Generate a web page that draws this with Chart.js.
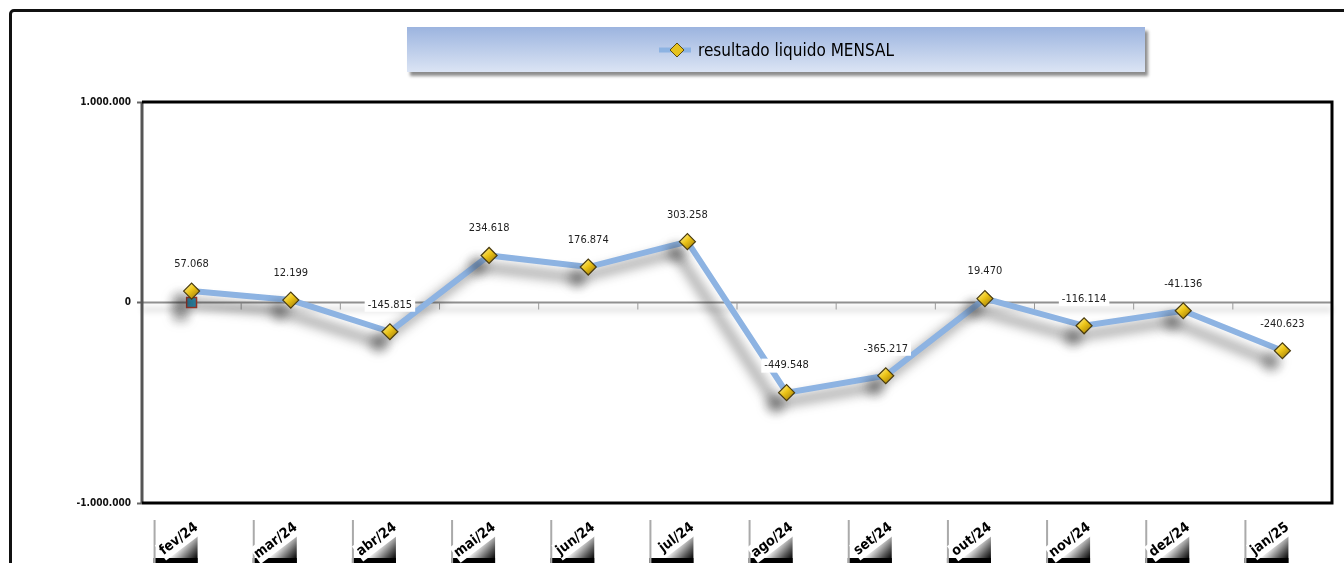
<!DOCTYPE html>
<html>
<head>
<meta charset="utf-8">
<script src="https://cdn.jsdelivr.net/npm/chart.js@4.4.1/dist/chart.umd.min.js"></script>
<style>
  html, body { margin: 0; padding: 0; background: #fff; overflow: hidden; }
  #wrap { position: relative; width: 1344px; height: 563px; }
  #moldura { position: absolute; left: 9px; top: 9px; width: 1400px; height: 620px;
    border: 3px solid #111; border-radius: 5px; box-sizing: border-box; }
  #legenda { position: absolute; left: 407px; top: 27px; width: 738px; height: 45px;
    background: linear-gradient(#9cb4df, #dbe4f4); box-shadow: 3px 4px 3px rgba(0,0,0,.45);
    display: flex; align-items: center; justify-content: center;
    font-family: 'Liberation Sans Narrow', 'DejaVu Sans Condensed', sans-serif;
    font-size: 17px; color: #000; }
  #legenda svg { margin-right: 6px; }
  canvas { position: absolute; left: 0; top: 0; }
</style>
</head>
<body>
<div id="wrap">
  <div id="moldura"></div>
  <canvas id="grafico" width="1344" height="563"></canvas>
  <div id="legenda">
    <svg width="34" height="16" viewBox="0 0 34 16">
      <line x1="1" y1="8" x2="33" y2="8" stroke="#8db3e2" stroke-width="5"/>
      <polygon points="19,1 26,8 19,15 12,8" fill="#e6c21e" stroke="#5a4a12" stroke-width="1"/>
    </svg>
    <span>resultado liquido MENSAL</span>
  </div>
</div>
<script>
// ── dados ──────────────────────────────────────────────
const meses = ["fev/24", "mar/24", "abr/24", "mai/24", "jun/24", "jul/24",
               "ago/24", "set/24", "out/24", "nov/24", "dez/24", "jan/25"]
const resultadoMensal = [57068, 12199, -145815, 234618, 176874, 303258,
                         -449548, -365217, 19470, -116114, -41136, -240623]
const marcadorInicial = [0, null, null, null, null, null, null, null, null, null, null, null]
const eixoY = { min: -1000000, max: 1000000, passo: 1000000 }

const fontNarrow = "'Liberation Sans Narrow', 'DejaVu Sans Condensed', sans-serif"

function fmt(v) {
  const s = Math.abs(Math.round(v)).toString().replace(/\B(?=(\d{3})+(?!\d))/g, ".")
  return (v < 0 ? "-" : "") + s
}

// preenchimento dourado dos losangos
function douradoPonto(c) {
  const ch = c.chart
  if (!ch.scales || !ch.scales.x || c.raw == null) return "#e6c21e"
  const x = ch.scales.x.getPixelForValue(c.dataIndex)
  const y = ch.scales.y.getPixelForValue(c.raw)
  if (!isFinite(x) || !isFinite(y)) return "#e6c21e"
  const g = ch.ctx.createLinearGradient(x - 7, y - 7, x + 7, y + 7)
  g.addColorStop(0, "#fff3a0")
  g.addColorStop(0.45, "#f0c818")
  g.addColorStop(1, "#a07a08")
  return g
}

const decoracao = {
  id: "decoracao",
  beforeDraw(chart) {
    // caixas sombreadas atrás dos rótulos do eixo X
    const { ctx, scales: { x } } = chart
    ctx.save()
    x.ticks.forEach((t, i) => {
      const px = x.getPixelForTick(i)
      const l = px - 38, r = px + 6, top = 520, bot = 563
      const g = ctx.createLinearGradient(l + 14, top + 12, r, bot - 4)
      g.addColorStop(0, "#ffffff")
      g.addColorStop(0.45, "#ffffff")
      g.addColorStop(0.8, "#555")
      g.addColorStop(1, "#000")
      ctx.fillStyle = g
      ctx.fillRect(l, top, r - l, bot - top)
      ctx.fillStyle = "#000"
      ctx.fillRect(l, bot - 5, r - l, 5)
      ctx.fillStyle = "#aaa"
      ctx.fillRect(l, top, 2, bot - top)
    })
    ctx.restore()
  },
  beforeDatasetsDraw(chart) {
    const { ctx, chartArea: a, scales: { x, y } } = chart
    const y0 = y.getPixelForValue(0)
    ctx.save()
    ctx.shadowColor = "rgba(0,0,0,0.3)"
    ctx.shadowBlur = 6
    ctx.shadowOffsetY = 7
    ctx.strokeStyle = "#909090"
    ctx.lineWidth = 2
    ctx.beginPath()
    ctx.moveTo(a.left, y0)
    ctx.lineTo(a.right, y0)
    ctx.stroke()
    ctx.restore()
    ctx.save()
    ctx.strokeStyle = "#999"
    ctx.lineWidth = 1
    const passo = x.getPixelForTick(1) - x.getPixelForTick(0)
    for (let i = 1; i < x.ticks.length; i++) {
      const bx = x.getPixelForTick(i) - passo / 2
      ctx.beginPath()
      ctx.moveTo(bx, y0)
      ctx.lineTo(bx, y0 + 7)
      ctx.stroke()
    }
    ctx.restore()
  },
  beforeDatasetDraw(chart) {
    const ctx = chart.ctx
    ctx.save()
    ctx.shadowColor = "rgba(30,30,30,0.6)"
    ctx.shadowBlur = 12
    ctx.shadowOffsetX = -11
    ctx.shadowOffsetY = 11
  },
  afterDatasetDraw(chart) {
    chart.ctx.restore()
  },
  afterDatasetsDraw(chart) {
    const { ctx, chartArea: a } = chart
    // rótulos de valores
    const meta = chart.getDatasetMeta(1)
    ctx.save()
    ctx.font = "11px " + fontNarrow
    ctx.textAlign = "center"
    ctx.textBaseline = "middle"
    meta.data.forEach((p, i) => {
      const txt = fmt(resultadoMensal[i])
      const w = ctx.measureText(txt).width
      const ly = p.y - 27
      ctx.fillStyle = "#fff"
      ctx.fillRect(p.x - w / 2 - 3, ly - 7, w + 6, 14)
      ctx.fillStyle = "#222"
      ctx.fillText(txt, p.x, ly)
    })
    ctx.restore()
    // moldura da área de plotagem
    ctx.save()
    ctx.lineWidth = 3
    ctx.strokeStyle = "#555"
    ctx.beginPath()
    ctx.moveTo(a.left, a.top)
    ctx.lineTo(a.left, a.bottom)
    ctx.stroke()
    ctx.strokeStyle = "#000"
    ctx.beginPath()
    ctx.moveTo(a.left, a.top)
    ctx.lineTo(a.right, a.top)
    ctx.lineTo(a.right, a.bottom)
    ctx.lineTo(a.left, a.bottom)
    ctx.stroke()
    ctx.restore()
  }
}

new Chart(document.getElementById("grafico"), {
  type: "line",
  data: {
    labels: meses,
    datasets: [
      {
        label: "inicial",
        data: marcadorInicial,
        showLine: false,
        pointStyle: "rect",
        pointRadius: 7,
        pointBackgroundColor: "#2f9cc4",
        pointBorderColor: "#b53a2a",
        pointBorderWidth: 1.5,
        order: 2
      },
      {
        label: "resultado liquido MENSAL",
        data: resultadoMensal,
        borderColor: "#8db3e2",
        borderWidth: 6,
        tension: 0,
        pointStyle: "rectRot",
        pointRadius: 8,
        pointBackgroundColor: douradoPonto,
        pointBorderColor: "#4a3c10",
        pointBorderWidth: 1.2,
        order: 1
      }
    ]
  },
  options: {
    responsive: false,
    animation: false,
    layout: { padding: { top: 102, right: 12, left: 0, bottom: 0 } },
    plugins: { legend: { display: false }, tooltip: { enabled: false } },
    scales: {
      x: {
        offset: true,
        grid: { display: false },
        border: { display: false },
        ticks: {
          autoSkip: false,
          maxRotation: 37,
          minRotation: 37,
          padding: 8,
          color: "#000",
          font: { family: fontNarrow, size: 14, weight: "bold" },
          showLabelBackdrop: true,
          backdropColor: "#fff",
          backdropPadding: 1
        },
        afterFit: s => { s.height = 60 }
      },
      y: {
        min: eixoY.min,
        max: eixoY.max,
        border: { display: false },
        grid: { color: "transparent", drawTicks: true, tickLength: 5, tickColor: "#666", tickWidth: 2 },
        ticks: {
          stepSize: eixoY.passo,
          padding: 6,
          color: "#111",
          font: { family: fontNarrow, size: 10, weight: "bold" },
          callback: v => fmt(v)
        },
        afterFit: s => { s.width = 142 }
      }
    }
  },
  plugins: [decoracao]
})
</script>
</body>
</html>
